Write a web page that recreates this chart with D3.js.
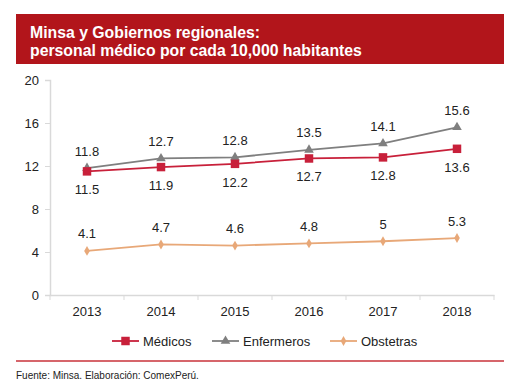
<!DOCTYPE html>
<html>
<head>
<meta charset="utf-8">
<script src="https://cdn.jsdelivr.net/npm/d3@7"></script>
<style>
  body { margin: 0; background: #fff; }
  text { font-family: "Liberation Sans", Arial, sans-serif; }
</style>
</head>
<body>
<script>
// datos
const years = ["2013", "2014", "2015", "2016", "2017", "2018"];
const medicos = [11.5, 11.9, 12.2, 12.7, 12.8, 13.6];
const enfermeros = [11.8, 12.7, 12.8, 13.5, 14.1, 15.6];
const obstetras = [4.1, 4.7, 4.6, 4.8, 5, 5.3];
const yTicks = [0, 4, 8, 12, 16, 20];

const width = 528, height = 391;
const svg = d3.select("body").append("svg")
  .attr("width", width).attr("height", height);

// cabecera
svg.append("rect").attr("x", 16).attr("y", 14).attr("width", 488).attr("height", 50)
  .attr("fill", "#b2151b");
svg.append("text").attr("x", 30).attr("y", 38).attr("fill", "#fff")
  .attr("font-size", 15.8).attr("font-weight", "bold")
  .text("Minsa y Gobiernos regionales:");
svg.append("text").attr("x", 30).attr("y", 56).attr("fill", "#fff")
  .attr("font-size", 15.8).attr("font-weight", "bold")
  .text("personal médico por cada 10,000 habitantes");

// escalas
const x = d3.scaleBand().domain(years).range([50, 494]);
const y = d3.scaleLinear().domain([0, 20]).range([295, 80]);

const yAxis = svg.append("g").attr("transform", "translate(50,0)")
  .call(d3.axisLeft(y).tickValues(yTicks).tickSize(5).tickPadding(6));
const xAxis = svg.append("g").attr("transform", "translate(0,295)")
  .call(d3.axisBottom(x).tickSize(0).tickPadding(12));

// ticks entre categorias
svg.append("g").selectAll("line")
  .data(years.concat(["end"]))
  .join("line")
  .attr("x1", (d, i) => 50 + i * x.step()).attr("x2", (d, i) => 50 + i * x.step())
  .attr("y1", 295).attr("y2", 300)
  .attr("stroke", "#d9d9d9");

[yAxis, xAxis].forEach(g => {
  g.select(".domain").attr("stroke", "#d9d9d9").attr("stroke-width", 1.5);
  g.selectAll(".tick line").attr("stroke", "#d9d9d9");
  g.selectAll("text").attr("font-size", 13).attr("fill", "#222")
    .style("font-family", "'Liberation Sans', Arial, sans-serif");
});

const cx = d => x(d) + x.bandwidth() / 2;

const series = [
  { name: "Médicos", values: medicos, color: "#c8203a", marker: "square", labelDy: 23 },
  { name: "Enfermeros", values: enfermeros, color: "#7f7f7f", marker: "triangle", labelDy: -12.5 },
  { name: "Obstetras", values: obstetras, color: "#e8a878", marker: "diamond", labelDy: -12.5 }
];

const symbolFor = {
  square: d3.symbol().type(d3.symbolSquare).size(72),
  triangle: d3.symbol().type(d3.symbolTriangle).size(40),
  diamond: d3.symbol().type(d3.symbolDiamond).size(28)
};

const line = d3.line().x((d, i) => cx(years[i])).y(d => y(d));

// dibujar enfermeros primero para que medicos quede encima
[series[2], series[1], series[0]].forEach(s => {
  svg.append("path").attr("d", line(s.values))
    .attr("fill", "none").attr("stroke", s.color).attr("stroke-width", 1.8);
  svg.append("g").selectAll("path")
    .data(s.values).join("path")
    .attr("d", symbolFor[s.marker])
    .attr("transform", (d, i) => `translate(${cx(years[i])},${y(d)})`)
    .attr("fill", s.color);
  svg.append("g").selectAll("text")
    .data(s.values).join("text")
    .attr("x", (d, i) => cx(years[i]))
    .attr("y", d => y(d) + s.labelDy)
    .attr("text-anchor", "middle")
    .attr("font-size", 13).attr("fill", "#222")
    .text(d => d);
});

// leyenda
const legX = [112, 212, 330];
series.forEach((s, i) => {
  const g = svg.append("g").attr("transform", `translate(${legX[i]},341)`);
  g.append("line").attr("x1", 0).attr("x2", 27).attr("y1", 0).attr("y2", 0)
    .attr("stroke", s.color).attr("stroke-width", 1.8);
  g.append("path").attr("d", symbolFor[s.marker]).attr("transform", "translate(13.5,0)")
    .attr("fill", s.color);
  g.append("text").attr("x", 31).attr("y", 5).attr("font-size", 13).attr("fill", "#222")
    .text(s.name);
});

// pie
svg.append("line").attr("x1", 16).attr("x2", 504).attr("y1", 361).attr("y2", 361)
  .attr("stroke", "#c8323a").attr("stroke-width", 1.5);
svg.append("text").attr("x", 16).attr("y", 379).attr("font-size", 10).attr("fill", "#222")
  .text("Fuente: Minsa. Elaboración: ComexPerú.");
</script>
</body>
</html>
